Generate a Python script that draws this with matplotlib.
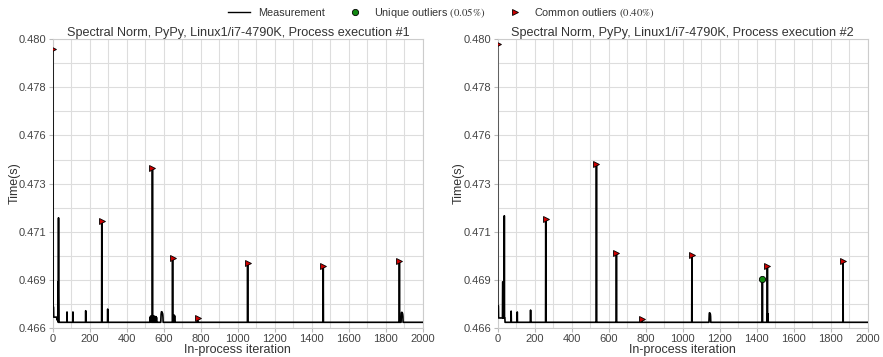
import numpy as np
import matplotlib
matplotlib.use("Agg")
import matplotlib.pyplot as plt
from matplotlib.ticker import MultipleLocator, FixedLocator, FormatStrFormatter
from matplotlib.lines import Line2D

plt.rcParams["font.family"] = ["Liberation Sans", "DejaVu Sans"]
plt.rcParams["mathtext.fontset"] = "stix"

N_ITER = 2000
Y_MIN, Y_MAX = 0.4662, 0.4802

# ---- execution #1 ----
base1 = 0.46648
levels1 = [(0, 1, 0.4797), (1, 4, 0.46722), (4, 21, 0.46673), (21, 27, 0.46660)]
spikes1 = [(27, 0.46843), (28, 0.46800), (30, 0.47154), (76, 0.46698), (108, 0.46698),
           (177, 0.46704), (264, 0.47138), (296, 0.46712),
           (526, 0.46670), (528, 0.46678), (530, 0.46675), (533, 0.46678), (535, 0.46680),
           (538, 0.47394), (545, 0.46680), (556, 0.46676), (560, 0.46672),
           (647, 0.46961), (652, 0.46683), (655, 0.46683), (658, 0.46680),
           (782, 0.46667), (1053, 0.46936), (1462, 0.46920), (1874, 0.46943)]
bumps1 = [(584, [0.46672, 0.46688, 0.46695, 0.46699, 0.46699, 0.46699, 0.46697, 0.46695,
                 0.46693, 0.46690, 0.46684, 0.46672]),
          (1884, [0.46680, 0.46693, 0.46696, 0.46696, 0.46696, 0.46695, 0.46693, 0.46690,
                  0.46685, 0.46676])]
common1 = [0, 264, 538, 647, 782, 1053, 1462, 1874]
unique1 = []

# ---- execution #2 ----
base2 = 0.46648
levels2 = [(0, 1, 0.47995), (1, 5, 0.46728), (5, 40, 0.46669)]
spikes2 = [(27, 0.46844), (28, 0.46844), (29, 0.46820), (36, 0.47164), (73, 0.46702),
           (106, 0.46698), (178, 0.46707), (260, 0.47148), (534, 0.47413),
           (642, 0.46982), (780, 0.46665), (1050, 0.46975), (1431, 0.46859),
           (1458, 0.46920), (1460, 0.46690), (1867, 0.46946)]
bumps2 = [(1143, [0.46676, 0.46690, 0.46694, 0.46694, 0.46693, 0.46692, 0.46690,
                  0.46686, 0.46676])]
common2 = [0, 260, 534, 642, 780, 1050, 1458, 1867]
unique2 = [1431]


def build_series(base, levels, spikes, bumps):
    y = np.full(N_ITER, base)
    for a, b, v in levels:
        y[a:b] = v
    for i, v in spikes:
        y[i] = v
    for start, vals in bumps:
        y[start:start + len(vals)] = vals
    return y


fig = plt.figure(figsize=(8.83, 3.57), dpi=100)
axes = [fig.add_axes([0.060, 0.081, 0.4187, 0.8095]),
        fig.add_axes([0.5636, 0.081, 0.4190, 0.8095])]

runs = [(levels1, spikes1, bumps1, common1, unique1, base1),
        (levels2, spikes2, bumps2, common2, unique2, base2)]

x = np.arange(N_ITER)
for k, (ax, (lv, sp, bm, com, uni, base)) in enumerate(zip(axes, runs)):
    y = build_series(base, lv, sp, bm)
    ax.plot(x, y, color="black", lw=1.2, zorder=3)
    ax.plot(com, y[com], ls="none", marker=">", ms=4.5, mfc="#cc0000", mec="black",
            mew=0.6, zorder=4)
    if uni:
        ax.plot(uni, y[uni], ls="none", marker="o", ms=4.5, mfc="#118811", mec="black",
                mew=0.6, zorder=4)

    ax.set_xlim(0, N_ITER)
    ax.set_ylim(Y_MIN, Y_MAX)
    ax.xaxis.set_major_locator(MultipleLocator(200))
    ax.xaxis.set_minor_locator(MultipleLocator(100))
    yt = np.linspace(Y_MIN, Y_MAX, 7)
    ax.yaxis.set_major_locator(FixedLocator(yt))
    ax.yaxis.set_minor_locator(FixedLocator((yt[:-1] + yt[1:]) / 2))
    ax.yaxis.set_major_formatter(FormatStrFormatter("%.3f"))
    ax.grid(which="both", color="#dddddd", lw=0.8, zorder=0)
    for s in ax.spines.values():
        s.set_color("#cccccc")
    ax.tick_params(which="major", labelsize=8, colors="#444444", length=3,
                   color="#bbbbbb", pad=1.5)
    ax.tick_params(which="minor", length=0)
    ax.set_title(f"Spectral Norm, PyPy, Linux1/i7-4790K, Process execution #{k + 1}",
                 fontsize=9.1, color="#333333", pad=2)
    ax.set_xlabel("In-process iteration", fontsize=9, color="#333333", labelpad=0)
    ax.set_ylabel("Time(s)", fontsize=9, color="#333333", labelpad=-1)

handles = [Line2D([], [], color="black", lw=1),
           Line2D([], [], ls="none", marker="o", ms=4.5, mfc="#118811", mec="black", mew=0.6),
           Line2D([], [], ls="none", marker=">", ms=4.5, mfc="#cc0000", mec="black", mew=0.6)]
labels = ["Measurement", r"Unique outliers $(0.05\%)$", r"Common outliers $(0.40\%)$"]
leg = fig.legend(handles, labels, loc="upper center", bbox_to_anchor=(0.5, 1.01), ncol=3,
                 frameon=False, fontsize=7.8, handlelength=2.0, handletextpad=0.75,
                 columnspacing=1.75)
for t in leg.get_texts():
    t.set_color("#333333")

fig.savefig("out.png", dpi=100)
